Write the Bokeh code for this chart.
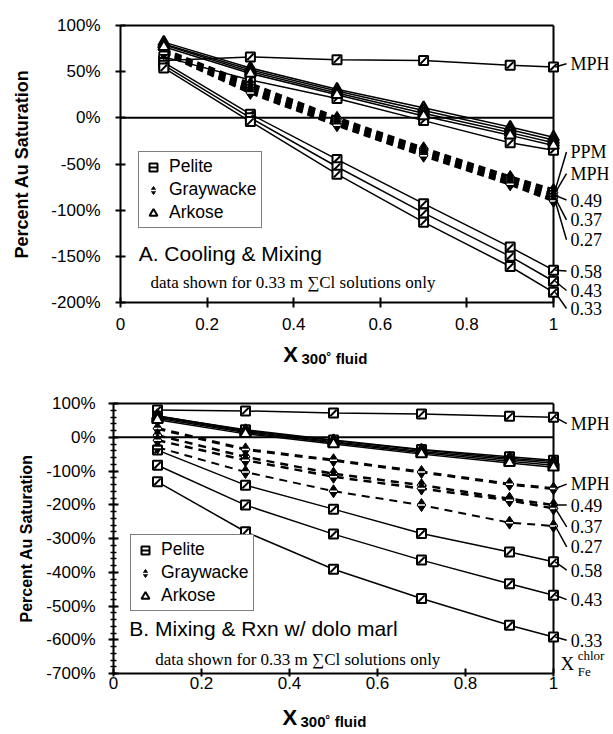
from math import pi
from bokeh.plotting import figure
from bokeh.layouts import column
from bokeh.models import (Range1d, FixedTicker, CustomJSTickFormatter, Label,
                          Legend, LegendItem)
from bokeh.embed import file_html
from bokeh.resources import INLINE

# ---------------- data ----------------
x_fluid = [0.1, 0.3, 0.5, 0.7, 0.9, 1.0]
x_ticks = [0, 0.2, 0.4, 0.6, 0.8, 1]

# Panel A: Cooling & Mixing (percent Au saturation)
a_pelite_mph = [62, 66, 63, 62, 57, 55]
a_pelite_ppm = [66, 41, 21, -3, -27, -35]
a_pelite_058 = [60, 4, -45, -93, -140, -165]
a_pelite_043 = [57, 0, -53, -103, -150, -177]
a_pelite_033 = [54, -4, -61, -113, -161, -189]
a_arkose_1 = [82, 54, 31, 11, -10, -21]
a_arkose_2 = [80, 52, 29, 8, -13, -24]
a_arkose_3 = [79, 50, 27, 5, -16, -27]
a_arkose_4 = [77, 48, 25, 2, -19, -30]
a_gray_ppm = [74, 37, 0, -33, -64, -78]
a_gray_mph = [73, 34, -2, -35, -66, -81]
a_gray_049 = [72, 31, -4, -37, -68, -84]
a_gray_037 = [71, 29, -6, -39, -70, -87]
a_gray_027 = [70, 27, -8, -41, -72, -90]
a_yticks = [-200, -150, -100, -50, 0, 50, 100]

# Panel B: Mixing & Rxn w/ dolo marl
b_pelite_mph = [81, 78, 72, 69, 62, 59]
b_pelite_ppm = [62, 22, -8, -36, -58, -68]
b_pelite_058 = [-38, -142, -213, -285, -340, -369]
b_pelite_043 = [-83, -201, -287, -364, -434, -468]
b_pelite_033 = [-132, -280, -391, -478, -557, -592]
b_arkose_1 = [64, 20, -10, -38, -62, -72]
b_arkose_2 = [60, 17, -13, -42, -66, -77]
b_arkose_3 = [56, 14, -16, -46, -71, -83]
b_arkose_4 = [52, 10, -20, -50, -76, -89]
b_gray_mph = [26, -36, -68, -103, -139, -152]
b_gray_049 = [6, -58, -108, -142, -182, -201]
b_gray_037 = [-9, -68, -117, -152, -187, -211]
b_gray_027 = [-30, -103, -160, -201, -253, -263]
b_yticks = [-700, -600, -500, -400, -300, -200, -100, 0, 100]
b_yminor = list(range(-700, 101, 20))

SANS = "Liberation Sans"
SERIF = "Liberation Serif"


def make_fig(height, xmin, xmax, yframe_min, yaxis_min, yaxis_max, yframe_max,
             yticks, yminor, ylab_size, ylab_standoff, ytick_standoff,
             xtick_out, xtick_standoff):
    p = figure(width=613, height=height, title=None,
               x_range=Range1d(xmin, xmax), y_range=Range1d(yframe_min, yframe_max),
               output_backend="svg", toolbar_location=None,
               min_border_left=0, min_border_right=5,
               min_border_top=0, min_border_bottom=0)
    p.outline_line_color = None
    p.xgrid.visible = False
    p.ygrid.visible = False
    p.background_fill_color = "white"
    p.border_fill_color = "white"

    xa = p.xaxis[0]
    xa.fixed_location = yaxis_min
    xa.bounds = (0, 1)
    xa.ticker = FixedTicker(ticks=x_ticks)
    xa.formatter = CustomJSTickFormatter(code="return tick.toString();")
    xa.axis_line_width = 2
    xa.major_tick_line_width = 2
    xa.major_tick_in = 5
    xa.major_tick_out = xtick_out
    xa.minor_tick_line_color = None
    xa.major_label_standoff = xtick_standoff
    xa.major_label_text_font = SANS
    xa.major_label_text_font_size = "17px"
    xa.major_label_text_color = "black"

    ya = p.yaxis[0]
    ya.fixed_location = 0
    ya.bounds = (yaxis_min, yaxis_max)
    ya.ticker = FixedTicker(ticks=yticks, minor_ticks=yminor)
    ya.formatter = CustomJSTickFormatter(code="return tick + '%';")
    ya.axis_line_width = 2
    ya.major_tick_line_width = 2
    ya.major_tick_in = 5
    ya.major_tick_out = 5
    ya.minor_tick_in = 3
    ya.minor_tick_out = 3
    ya.minor_tick_line_width = 1.5
    ya.major_label_standoff = ytick_standoff
    ya.major_label_text_font = SANS
    ya.major_label_text_font_size = "17px"
    ya.major_label_text_color = "black"
    ya.axis_label = "Percent Au Saturation"
    ya.axis_label_text_font = SANS
    ya.axis_label_text_font_style = "bold"
    ya.axis_label_text_font_size = ylab_size
    ya.axis_label_text_color = "black"
    ya.axis_label_standoff = ylab_standoff

    # frame lines and zero line
    p.segment(x0=[0, 1, 0], y0=[yaxis_max, yaxis_min, 0],
              x1=[1, 1, 1], y1=[yaxis_max, yaxis_max, 0],
              line_color="black", line_width=2)
    return p


def solid(p, ys, w=1.5):
    p.line(x_fluid, ys, line_color="black", line_width=w)


def dashed(p, ys, w=3, dash="7 5"):
    p.line(x_fluid, ys, line_color="black", line_width=w, line_dash=dash)


def squares(p, ys):
    r1 = p.scatter(x_fluid, ys, marker="square", size=9, fill_color="white",
                   line_color="black", line_width=2)
    r2 = p.scatter(x_fluid, ys, marker="dash", angle=pi / 4, size=9,
                   line_color="black", line_width=2)
    return [r1, r2]


def diamonds(p, ys):
    r1 = p.scatter(x_fluid, ys, marker="diamond", size=13, fill_color="black",
                   line_color="black", line_width=1)
    r2 = p.scatter(x_fluid, ys, marker="dash", size=7, line_color="white",
                   line_width=1.5)
    return [r1, r2]


def triangles(p, ys):
    r1 = p.scatter(x_fluid, ys, marker="triangle", size=11, fill_color="white",
                   line_color="black", line_width=2)
    return [r1]


def right_labels(p, items, x_text=1.039, x_lead=1.03):
    x0, y0, x1, y1 = [], [], [], []
    for text, ly, target in items:
        x0.append(1.004)
        y0.append(target)
        x1.append(x_lead)
        y1.append(ly)
        p.add_layout(Label(x=x_text, y=ly, text=text, text_font=SERIF,
                           text_font_size="18px", text_baseline="middle",
                           text_align="left", text_color="black"))
    p.segment(x0=x0, y0=y0, x1=x1, y1=y1, line_color="black", line_width=1.5)


def add_legend(p, sq, di, tr, loc):
    leg = Legend(items=[LegendItem(label="Pelite", renderers=sq),
                        LegendItem(label="Graywacke", renderers=di),
                        LegendItem(label="Arkose", renderers=tr)],
                 location=loc, orientation="vertical")
    leg.label_text_font = SANS
    leg.label_text_font_size = "17.5px"
    leg.label_text_color = "black"
    leg.border_line_color = "black"
    leg.border_line_width = 1
    leg.background_fill_color = "white"
    leg.background_fill_alpha = 1
    leg.padding = 4
    leg.spacing = 2
    leg.margin = 0
    leg.glyph_width = 20
    leg.glyph_height = 20
    leg.label_height = 20
    leg.label_standoff = 6
    p.add_layout(leg, "center")


def texts(p, title, tx, ty, sx, sy):
    p.add_layout(Label(x=tx, y=ty, text=title, text_font=SANS,
                       text_font_size="21px", text_baseline="middle",
                       text_color="black"))
    p.add_layout(Label(x=sx, y=sy, text="data shown for 0.33 m \u2211Cl solutions only",
                       text_font=SERIF, text_font_size="17px",
                       text_baseline="middle", text_color="black"))


def xlabel(p, xx, xy, fx, fy):
    p.add_layout(Label(x=xx, y=xy, text="X", text_font=SANS, text_font_size="22px",
                       text_font_style="bold", text_baseline="middle",
                       text_color="black"))
    p.add_layout(Label(x=fx, y=fy, text="300\u02da fluid", text_font=SANS,
                       text_font_size="15px", text_font_style="bold",
                       text_baseline="middle", text_color="black"))


# ---------------- Panel A ----------------
a_xmin = -120 / 433
a_ppu = 277 / 300  # pixels per percent
pA = make_fig(370, a_xmin, a_xmin + 608 / 433, 100 - 345 / a_ppu, -200, 100,
              100 + 25 / a_ppu, a_yticks, [], "18px", 16, 15, 5, 10)
for ys in [a_arkose_1, a_arkose_2, a_arkose_3, a_arkose_4, a_pelite_ppm,
           a_pelite_mph, a_pelite_058, a_pelite_043, a_pelite_033]:
    solid(pA, ys)
for ys in [a_gray_ppm, a_gray_mph, a_gray_049, a_gray_037, a_gray_027]:
    dashed(pA, ys)
a_sq = None
for ys in [a_pelite_mph, a_pelite_ppm, a_pelite_058, a_pelite_043, a_pelite_033]:
    r = squares(pA, ys)
    a_sq = a_sq or r
a_di = None
for ys in [a_gray_ppm, a_gray_mph, a_gray_049, a_gray_037, a_gray_027]:
    r = diamonds(pA, ys)
    a_di = a_di or r
a_tr = None
for ys in [a_arkose_1, a_arkose_2, a_arkose_3, a_arkose_4]:
    r = triangles(pA, ys)
    a_tr = a_tr or r
add_legend(pA, a_sq, a_di, a_tr, (138, 142))
texts(pA, "A. Cooling & Mixing", 0.042, -147, 0.069, -178.4)
xlabel(pA, 0.376, -256, 0.418, -261)
right_labels(pA, [("MPH", 58.5, a_pelite_mph[-1]),
                  ("PPM", -37, a_gray_ppm[-1]),
                  ("MPH", -60.5, a_gray_mph[-1]),
                  ("0.49", -89, a_gray_049[-1]),
                  ("0.37", -110.5, a_gray_037[-1]),
                  ("0.27", -132, a_gray_027[-1]),
                  ("0.58", -166, a_pelite_058[-1]),
                  ("0.43", -187, a_pelite_043[-1]),
                  ("0.33", -206.5, a_pelite_033[-1])])

# ---------------- Panel B ----------------
b_xmin = -113 / 440
b_ppu = 270 / 800
pB = make_fig(364, b_xmin, b_xmin + 608 / 440, 100 - 331 / b_ppu, -700, 100,
              100 + 33 / b_ppu, b_yticks, b_yminor, "16px", 8, 13, 3, 0)
for ys in [b_arkose_1, b_arkose_2, b_arkose_3, b_arkose_4, b_pelite_ppm,
           b_pelite_mph, b_pelite_058, b_pelite_043, b_pelite_033]:
    solid(pB, ys)
for ys, w in [(b_gray_mph, 3), (b_gray_049, 2.5), (b_gray_037, 2.5), (b_gray_027, 2)]:
    dashed(pB, ys, w=w, dash="8 6")
b_sq = None
for ys in [b_pelite_mph, b_pelite_ppm, b_pelite_058, b_pelite_043, b_pelite_033]:
    r = squares(pB, ys)
    b_sq = b_sq or r
b_di = None
for ys in [b_gray_mph, b_gray_049, b_gray_037, b_gray_027]:
    r = diamonds(pB, ys)
    b_di = b_di or r
b_tr = None
for ys in [b_arkose_1, b_arkose_2, b_arkose_3, b_arkose_4]:
    r = triangles(pB, ys)
    b_tr = b_tr or r
add_legend(pB, b_sq, b_di, b_tr, (130, 123))
texts(pB, "B. Mixing & Rxn w/ dolo marl", 0.036, -566.7, 0.095, -658.5)
xlabel(pB, 0.384, -830, 0.425, -842)
right_labels(pB, [("MPH", 40.6, b_pelite_mph[-1]),
                  ("MPH", -139, b_gray_mph[-1]),
                  ("0.49", -201, b_gray_049[-1]),
                  ("0.37", -265.7, b_gray_037[-1]),
                  ("0.27", -325, b_gray_027[-1]),
                  ("0.58", -394, b_pelite_058[-1]),
                  ("0.43", -481, b_pelite_043[-1]),
                  ("0.33", -601.6, b_pelite_033[-1])])
pB.add_layout(Label(x=1.016, y=-670, text="X", text_font=SERIF,
                    text_font_size="19px", text_baseline="middle", text_color="black"))
pB.add_layout(Label(x=1.055, y=-646, text="chlor", text_font=SERIF,
                    text_font_size="13px", text_baseline="middle", text_color="black"))
pB.add_layout(Label(x=1.055, y=-695, text="Fe", text_font=SERIF,
                    text_font_size="13px", text_baseline="middle", text_color="black"))

layout = column(pA, pB)
open("out.html", "w").write(file_html(layout, INLINE))
